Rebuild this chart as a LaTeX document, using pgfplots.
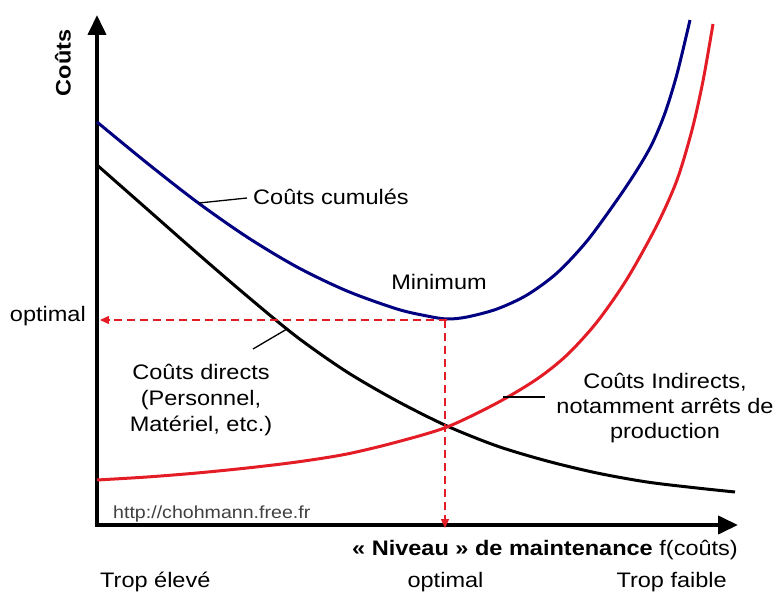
\documentclass[border=0pt]{standalone}
\usepackage{fontspec}
\setmainfont{Liberation Sans}[FakeStretch=1.12]
\usepackage{pgfplots}
\pgfplotsset{compat=1.18}
\usetikzlibrary{arrows.meta}
\definecolor{cblue}{RGB}{0,0,128}
\definecolor{cred}{RGB}{228,28,38}
\begin{document}
\fontsize{21}{25}\selectfont
\begin{tikzpicture}
\begin{axis}[
  scale only axis, width=641pt, height=510pt,
  xmin=0, xmax=641, ymin=0, ymax=510,
  axis lines=left, xtick=\empty, ytick=\empty,
  clip=false,
  axis line style={line width=4pt, line cap=rect, -{Triangle[width=18pt,length=20pt]}},
]
% Couts cumules
\addplot[cblue, line width=3pt, smooth, tension=0.5] coordinates {
(0,403) (50,362) (100,323) (150,288) (200,258) (250,234) (300,216) (330,209)
(350,206) (370,208) (400,216) (430,230) (460,252) (490,284) (520,325) (540,355)
(555,381) (568,412) (580,451) (593,505)};
% Couts directs
\addplot[black, line width=3pt, smooth, tension=0.5] coordinates {
(0,360) (50,316) (100,272) (150,229) (200,188) (250,153) (300,124) (350,99)
(400,79) (450,64) (500,52) (550,43) (600,37) (638,33)};
% Couts indirects
\addplot[cred, line width=3pt, smooth, tension=0.5] coordinates {
(0,45) (50,48) (100,52) (150,57) (200,63) (250,71) (300,83) (350,98) (400,122)
(440,146) (470,170) (500,203) (530,246) (560,300) (580,345) (595,395) (606,444) (616,501)};
% optimal guides
\addplot[cred, line width=1.5pt, dash pattern=on 8pt off 5pt, -{Triangle[width=8pt,length=9pt]}] coordinates {(350,205) (3,205)};
\addplot[cred, line width=1.5pt, dash pattern=on 8pt off 5pt, -{Triangle[width=8pt,length=9pt]}] coordinates {(348,205) (348,-3)};
% leader lines
\addplot[black, line width=1.3pt] coordinates {(102,322) (150,327)};
\addplot[black, line width=1.3pt] coordinates {(156,176) (190,196)};
\addplot[black, line width=1.3pt] coordinates {(406,128) (448,128)};
% labels
\node[anchor=west, inner sep=0pt] at (axis cs:156,328) {Coûts cumulés};
\node[inner sep=0pt] at (axis cs:342,243) {Minimum};
\node[align=center, inner sep=0pt, font=\fontsize{21}{26}\selectfont] at (axis cs:104,125) {Coûts directs\\(Personnel,\\Matériel, etc.)};
\node[align=center, inner sep=0pt, font=\fontsize{21}{25}\selectfont] at (axis cs:568,117) {Coûts Indirects,\\notamment arrêts de\\production};
\node[anchor=east, inner sep=0pt] at (axis cs:-11,209) {optimal};
\node[rotate=90, inner sep=0pt, font=\bfseries] at (axis cs:-34,462) {Coûts};
\node[anchor=base east, inner sep=0pt] at (axis cs:641,-30) {\textbf{« Niveau » de maintenance} f(coûts)};
\node[anchor=base west, inner sep=0pt] at (axis cs:3,-62) {Trop élevé};
\node[anchor=base, inner sep=0pt] at (axis cs:348.5,-62) {optimal};
\node[anchor=base east, inner sep=0pt] at (axis cs:630,-62) {Trop faible};
\node[anchor=base west, inner sep=0pt, text=black!75, font=\fontsize{17.5}{20}\selectfont] at (axis cs:16,7) {http://chohmann.free.fr};
\path (axis cs:-97,-67) rectangle (axis cs:683,525);
\end{axis}
\end{tikzpicture}
\end{document}
